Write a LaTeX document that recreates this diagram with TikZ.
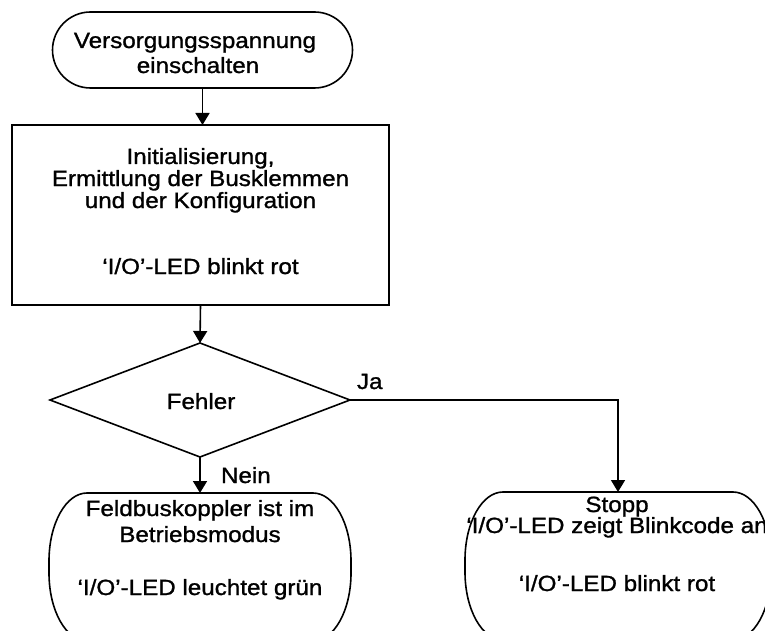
\documentclass[tikz,border=0pt]{standalone}
\usepackage{fontspec}
\setmainfont{Liberation Sans}[FakeStretch=1.1,RawFeature={embolden=1.2}]
\usetikzlibrary{shapes.geometric,arrows.meta,calc}
\newcommand\termoutline[3]{%
  \draw[ln] ($(#1.north west)+(#2,0)$) -- ($(#1.north east)+(-#2,0)$)
    .. controls ($(#1.north east)+(-#2*0.448,0)$) and ($(#1.north east)+(0,#3*0.448)$) .. ($(#1.north east)+(0,#3)$)
    -- ($(#1.south east)+(0,-#3)$)
    .. controls ($(#1.south east)+(0,-#3*0.448)$) and ($(#1.south east)+(-#2*0.448,0)$) .. ($(#1.south east)+(-#2,0)$)
    -- ($(#1.south west)+(#2,0)$)
    .. controls ($(#1.south west)+(#2*0.448,0)$) and ($(#1.south west)+(0,-#3*0.448)$) .. ($(#1.south west)+(0,-#3)$)
    -- ($(#1.north west)+(0,#3)$)
    .. controls ($(#1.north west)+(0,#3*0.448)$) and ($(#1.north west)+(#2*0.448,0)$) .. cycle;}
\begin{document}
\begin{tikzpicture}[x=1pt,y=-1pt,
  ln/.style={line width=1.6pt,black},
  arr/.style={ln,-{Triangle[length=12pt,width=14pt]}},
  box/.style={draw=none,rectangle,inner sep=0pt,outer sep=0pt},
  txt/.style={inner sep=0pt,outer sep=0pt,anchor=base,font=\fontsize{22}{24}\selectfont}]
\useasboundingbox (0,0) rectangle (765,631);
\clip (0,0) rectangle (765,631);
% shapes
\node[box,minimum width=300pt,minimum height=76pt] (start) at (202.5,50) {};
\termoutline{start}{38}{38}
\node[box,draw,ln,minimum width=377pt,minimum height=180pt] (init) at (200.5,215) {};
\node[diamond,draw,ln,inner sep=0pt,outer sep=0pt,minimum width=300pt,minimum height=114pt] (dec) at (200,400) {};
\node[box,minimum width=302pt,minimum height=148pt] (run) at (200,567) {};
\termoutline{run}{38}{68}
\node[box,minimum width=306pt,minimum height=148pt] (stop) at (618,566) {};
\termoutline{stop}{38}{68}
\coordinate (corner) at (stop.north |- dec.east);
% connectors
\draw[arr] (start.south) -- (start.south |- init.north);
\draw[arr] (init.south) -- (dec.north);
\draw[arr] (dec.south) -- (run.north);
\draw[arr] (dec.east) -- (corner) -- (stop.north);
% texts
\node[txt] (s1) at (195,48) {Versorgungsspannung};
\node[txt] (s2) at (198,73) {einschalten};
\node[txt] (i1) at (200.5,164) {Initialisierung,};
\node[txt] (i2) at (200.5,186) {Ermittlung der Busklemmen};
\node[txt] (i3) at (200.5,208) {und der Konfiguration};
\node[txt] (i4) at (200.5,274) {‘I/O’-LED blinkt rot};
\node[txt] (fe) at (201,409) {Fehler};
\node[txt,anchor=base west] (ja) at (357,389) {Ja};
\node[txt,anchor=base west] (nein) at (221,483) {Nein};
\node[txt] (r1) at (200,516) {Feldbuskoppler ist im};
\node[txt] (r2) at (200,542) {Betriebsmodus};
\node[txt] (r3) at (200,595) {‘I/O’-LED leuchtet grün};
\node[txt] (p1) at (617,512) {Stopp};
\node[txt] (p2) at (617,533) {‘I/O’-LED zeigt Blinkcode an};
\node[txt] (p3) at (617,591) {‘I/O’-LED blinkt rot};
\end{tikzpicture}
\end{document}
